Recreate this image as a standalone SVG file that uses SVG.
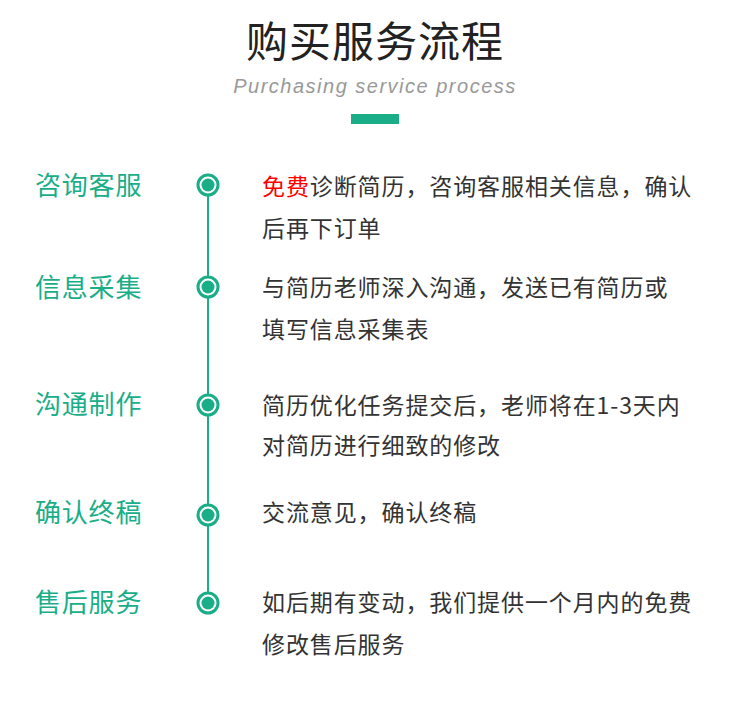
<svg xmlns="http://www.w3.org/2000/svg" width="750" height="702" viewBox="0 0 750 702">
<style>
.t{font-family:"Noto Sans CJK SC","Liberation Sans",sans-serif}
.lab{font-size:26px;fill:#1aae88;letter-spacing:0.8px}
.desc{font-size:23px;fill:#333;letter-spacing:0.9px}
.ring{fill:#fff;stroke:#1aae88;stroke-width:3}
.dot{fill:#1aae88}
</style>
<rect width="750" height="702" fill="#fff"/>
<g id="title">
<text class="t" x="375" y="57" font-size="42" fill="#222" text-anchor="middle" letter-spacing="1">购买服务流程</text>
<text x="375" y="93" font-family="Liberation Sans,sans-serif" font-style="italic" font-size="20" fill="#999" text-anchor="middle" letter-spacing="1.5">Purchasing service process</text>
<rect x="351" y="114" width="48" height="10" fill="#1aae88"/>
</g>
<g id="connectors">
<line x1="208" y1="185" x2="208" y2="603" stroke="#1aae88" stroke-width="2"/>
</g>
<g id="step1">
<text class="t lab" x="35" y="195">咨询客服</text>
<circle class="ring" cx="208" cy="185" r="10"/><circle class="dot" cx="208" cy="185" r="6.5"/>
<text class="t desc" x="262" y="195"><tspan fill="#f00">免费</tspan>诊断简历，咨询客服相关信息，确认</text>
<text class="t desc" x="262" y="237">后再下订单</text>
</g>
<g id="step2">
<text class="t lab" x="35" y="297">信息采集</text>
<circle class="ring" cx="208" cy="287" r="10"/><circle class="dot" cx="208" cy="287" r="6.5"/>
<text class="t desc" x="262" y="296">与简历老师深入沟通，发送已有简历或</text>
<text class="t desc" x="262" y="338">填写信息采集表</text>
</g>
<g id="step3">
<text class="t lab" x="35" y="414">沟通制作</text>
<circle class="ring" cx="208" cy="405" r="10"/><circle class="dot" cx="208" cy="405" r="6.5"/>
<text class="t desc" x="262" y="414">简历优化任务提交后，老师将在1-3天内</text>
<text class="t desc" x="262" y="454">对简历进行细致的修改</text>
</g>
<g id="step4">
<text class="t lab" x="35" y="522">确认终稿</text>
<circle class="ring" cx="208" cy="515" r="10"/><circle class="dot" cx="208" cy="515" r="6.5"/>
<text class="t desc" x="262" y="521">交流意见，确认终稿</text>
</g>
<g id="step5">
<text class="t lab" x="35" y="612">售后服务</text>
<circle class="ring" cx="208" cy="603" r="10"/><circle class="dot" cx="208" cy="603" r="6.5"/>
<text class="t desc" x="262" y="611">如后期有变动，我们提供一个月内的免费</text>
<text class="t desc" x="262" y="653">修改售后服务</text>
</g>
</svg>
